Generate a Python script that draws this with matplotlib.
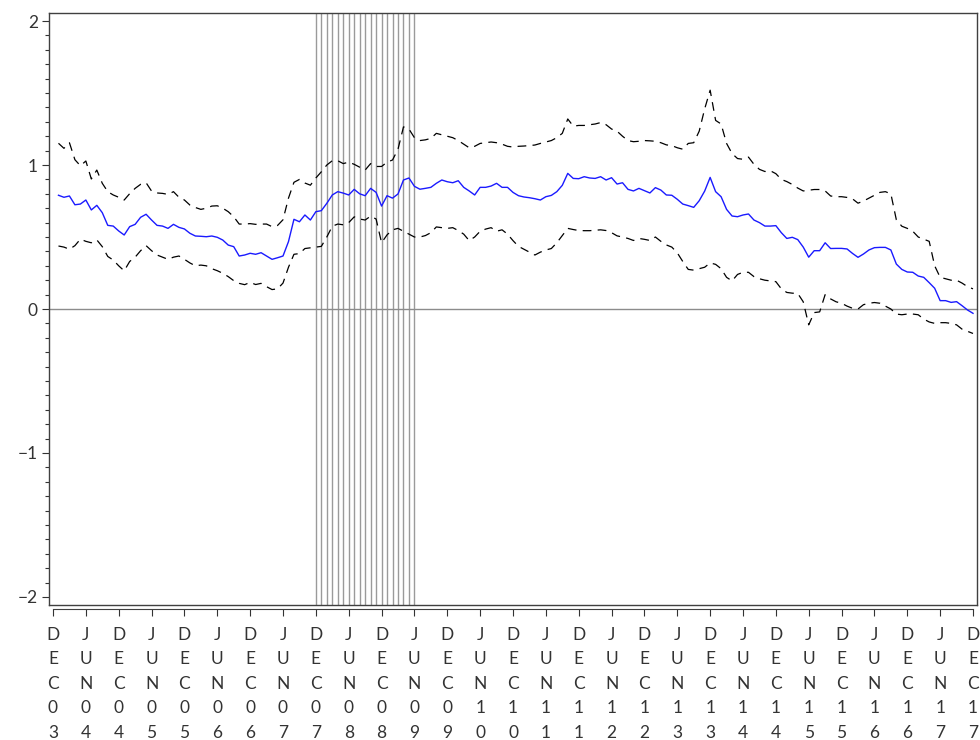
import matplotlib
matplotlib.use("Agg")
import matplotlib.pyplot as plt
import matplotlib.transforms as mtransforms
from matplotlib.ticker import MultipleLocator, FixedLocator

plt.rcParams['font.family'] = ['Lato', 'DejaVu Sans']

# monthly estimates, JAN04 .. DEC17 (month 0 = DEC03)
mid = [0.79, 0.776, 0.785, 0.724, 0.729, 0.757, 0.688, 0.72, 0.669, 0.581,
       0.576, 0.542, 0.514, 0.572, 0.588, 0.637, 0.658, 0.618, 0.581, 0.576,
       0.56, 0.588, 0.567, 0.556, 0.526, 0.507, 0.505, 0.502, 0.507, 0.498,
       0.479, 0.444, 0.433, 0.368, 0.375, 0.387, 0.38, 0.391, 0.368, 0.345,
       0.356, 0.368, 0.468, 0.623, 0.606, 0.653, 0.618, 0.676, 0.683, 0.734,
       0.792, 0.815, 0.805, 0.792, 0.831, 0.80, 0.787, 0.838, 0.81, 0.715,
       0.787, 0.77, 0.799, 0.896, 0.91, 0.852, 0.832, 0.838, 0.845, 0.873,
       0.896, 0.884, 0.877, 0.891, 0.845, 0.82, 0.792, 0.845, 0.845, 0.854,
       0.873, 0.845, 0.845, 0.81, 0.787, 0.778, 0.773, 0.766, 0.757, 0.78,
       0.789, 0.815, 0.859, 0.942, 0.907, 0.905, 0.919, 0.91, 0.907, 0.919,
       0.896, 0.912, 0.868, 0.877, 0.831, 0.82, 0.838, 0.822, 0.806, 0.843,
       0.826, 0.792, 0.79, 0.762, 0.729, 0.718, 0.706, 0.752, 0.819, 0.914,
       0.815, 0.78, 0.692, 0.646, 0.641, 0.653, 0.66, 0.618, 0.6, 0.576,
       0.576, 0.579, 0.53, 0.49, 0.498, 0.482, 0.43, 0.36, 0.405, 0.405,
       0.46, 0.42, 0.421, 0.421, 0.417, 0.386, 0.359, 0.382, 0.41, 0.426,
       0.428, 0.428, 0.41, 0.312, 0.275, 0.257, 0.255, 0.229, 0.22, 0.183,
       0.144, 0.058, 0.058, 0.046, 0.051, 0.023, -0.007, -0.03]

upper = [1.151, 1.116, 1.155, 1.037, 0.995, 1.028, 0.903, 0.965, 0.873, 0.815,
         0.792, 0.776, 0.757, 0.801, 0.838, 0.866, 0.877, 0.819, 0.806, 0.803,
         0.796, 0.815, 0.776, 0.757, 0.722, 0.705, 0.692, 0.70, 0.715, 0.717,
         0.70, 0.676, 0.641, 0.59, 0.59, 0.593, 0.588, 0.59, 0.59, 0.572,
         0.58, 0.62, 0.77, 0.88, 0.9, 0.875, 0.86, 0.91, 0.953, 1.0,
         1.03, 1.03, 1.01, 1.02, 1.005, 0.985, 0.965, 1.01, 0.99, 0.99,
         1.02, 1.035, 1.11, 1.265, 1.25, 1.19, 1.17, 1.175, 1.185, 1.22,
         1.21, 1.2, 1.19, 1.17, 1.145, 1.12, 1.13, 1.15, 1.155, 1.16,
         1.155, 1.145, 1.13, 1.125, 1.13, 1.132, 1.135, 1.139, 1.15, 1.16,
         1.17, 1.19, 1.22, 1.32, 1.27, 1.275, 1.275, 1.28, 1.285, 1.295,
         1.28, 1.25, 1.235, 1.2, 1.17, 1.162, 1.165, 1.17, 1.168, 1.165,
         1.155, 1.14, 1.135, 1.12, 1.11, 1.15, 1.155, 1.235, 1.39, 1.52,
         1.31, 1.285, 1.15, 1.08, 1.045, 1.04, 1.055, 1.005, 0.97, 0.955,
         0.96, 0.94, 0.9, 0.885, 0.865, 0.84, 0.82, 0.825, 0.83, 0.83,
         0.82, 0.785, 0.78, 0.78, 0.775, 0.765, 0.735, 0.75, 0.77, 0.79,
         0.81, 0.815, 0.8, 0.62, 0.575, 0.56, 0.54, 0.5, 0.485, 0.47,
         0.3, 0.22, 0.21, 0.2, 0.2, 0.18, 0.155, 0.14]

lower = [0.4375, 0.43, 0.415, 0.44, 0.485, 0.47, 0.46, 0.48, 0.433, 0.365,
         0.34, 0.30, 0.265, 0.33, 0.36, 0.405, 0.44, 0.405, 0.375, 0.36,
         0.345, 0.36, 0.368, 0.345, 0.32, 0.30, 0.305, 0.30, 0.28, 0.266,
         0.248, 0.225, 0.197, 0.178, 0.169, 0.185, 0.17, 0.178, 0.155, 0.135,
         0.14, 0.18, 0.29, 0.38, 0.385, 0.42, 0.425, 0.43, 0.435, 0.5,
         0.575, 0.59, 0.585, 0.6, 0.64, 0.625, 0.618, 0.645, 0.625, 0.46,
         0.515, 0.55, 0.56, 0.54, 0.52, 0.5, 0.5, 0.51, 0.53, 0.57,
         0.565, 0.56, 0.565, 0.545, 0.52, 0.475, 0.5, 0.54, 0.555, 0.565,
         0.54, 0.55, 0.52, 0.475, 0.435, 0.415, 0.395, 0.375, 0.395, 0.41,
         0.42, 0.46, 0.51, 0.56, 0.552, 0.545, 0.544, 0.544, 0.547, 0.55,
         0.545, 0.53, 0.508, 0.5, 0.49, 0.476, 0.49, 0.484, 0.476, 0.5,
         0.47, 0.445, 0.43, 0.39, 0.33, 0.275, 0.27, 0.28, 0.29, 0.32,
         0.31, 0.28, 0.22, 0.195, 0.24, 0.255, 0.255, 0.225, 0.21, 0.2,
         0.195, 0.19, 0.14, 0.115, 0.11, 0.108, 0.05, -0.11, -0.025, -0.02,
         0.1, 0.07, 0.05, 0.04, 0.02, 0.005, 0.0, 0.03, 0.04, 0.045,
         0.04, 0.02, 0.0, -0.035, -0.04, -0.035, -0.035, -0.04, -0.07, -0.09,
         -0.1, -0.095, -0.095, -0.1, -0.11, -0.14, -0.155, -0.17]

months = list(range(1, 1 + len(mid)))

# recession months DEC07 .. JUN09
recession = list(range(48, 67))

# tick labels every six months
tick_pos = list(range(0, 169, 6))
tick_lab = []
for p in tick_pos:
    yr = 3 + (p + 6) // 12
    mon = 'DEC' if p % 12 == 0 else 'JUN'
    tick_lab.append(mon + '%02d' % yr)

fig = plt.figure(figsize=(9.8, 7.4), dpi=100)
ax = fig.add_axes([49 / 980, 1 - 605 / 740, 928 / 980, 592 / 740])

for m in recession:
    ax.axvline(m, color='#9a9a9a', lw=1.0, zorder=1)
ax.axhline(0, color='#8c8c8c', lw=1.0, zorder=1)

ax.plot(months, upper, color='black', lw=0.9, dashes=(7, 5), zorder=2)
ax.plot(months, lower, color='black', lw=0.9, dashes=(7, 5), zorder=2)
ax.plot(months, mid, color='#1a1aff', lw=1.0, zorder=3)

ax.set_xlim(-0.73, 168.73)
ax.set_ylim(-2.056, 2.056)

ax.yaxis.set_major_locator(FixedLocator([-2, -1, 0, 1, 2]))
ax.yaxis.set_minor_locator(MultipleLocator(0.1))
ax.set_yticklabels(['\u22122', '\u22121', '0', '1', '2'])
ax.tick_params(axis='y', which='major', length=5, width=0.8, color='#333333',
               labelsize=12.5, labelcolor='#333333', pad=3)
ax.tick_params(axis='y', which='minor', length=3, width=0.8, color='#333333')

ax.set_xticks(tick_pos)
ax.set_xticklabels([])
ax.tick_params(axis='x', which='major', length=5, width=0.8, color='#333333')

# month labels written one character per row under each tick
trans = mtransforms.blended_transform_factory(ax.transData, fig.transFigure)
row_px = 24.6
for p, lab in zip(tick_pos, tick_lab):
    for k, ch in enumerate(lab):
        ax.text(p, 1 - (639.5 + k * row_px) / 740, ch, transform=trans,
                ha='center', va='baseline', fontsize=12.5, color='#333333',
                clip_on=False)

for s in ax.spines.values():
    s.set_color('#404040')
    s.set_linewidth(1.0)
ax.spines['bottom'].set_position(('outward', 3))
ax.spines['bottom'].set_bounds(0, 168)
ax.spines['bottom'].set_linewidth(0.8)
ax.plot([0, 1], [0, 0], transform=ax.transAxes, color='#404040', lw=1.0,
        clip_on=False, zorder=4)

fig.savefig('out.png', dpi=100)
